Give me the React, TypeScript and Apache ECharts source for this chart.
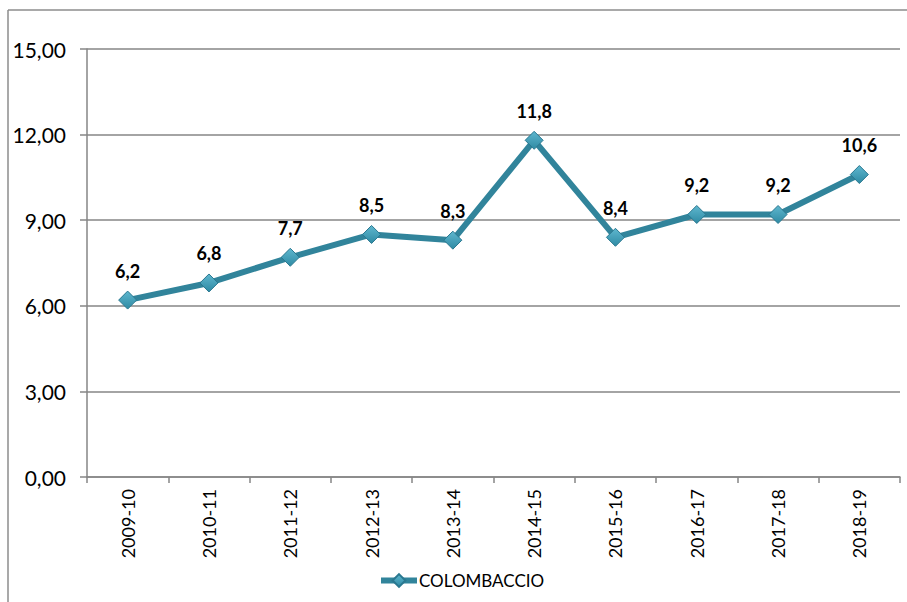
import React, { useEffect, useRef } from "react";
import * as echarts from "echarts";

const categories = ["2009-10", "2010-11", "2011-12", "2012-13", "2013-14", "2014-15", "2015-16", "2016-17", "2017-18", "2018-19"];
const values = [6.2, 6.8, 7.7, 8.5, 8.3, 11.8, 8.4, 9.2, 9.2, 10.6];
const seriesName = "COLOMBACCIO";
const yMin = 0;
const yMax = 15;
const yStep = 3;

export default function App() {
  const ref = useRef<HTMLDivElement>(null);
  useEffect(() => {
    if (!ref.current) return;
    const chart = echarts.init(ref.current, undefined, { renderer: "svg" });
    const font = "Lato, 'Liberation Sans', sans-serif";
    chart.setOption({
      animation: false,
      backgroundColor: "#ffffff",
      textStyle: { fontFamily: font },
      graphic: [
        { type: "line", shape: { x1: 8, y1: 10, x2: 907, y2: 10 }, style: { stroke: "#8c8c8c", lineWidth: 1.5 } },
        { type: "line", shape: { x1: 8, y1: 10, x2: 8, y2: 602 }, style: { stroke: "#8c8c8c", lineWidth: 1.5 } },
      ],
      grid: { left: 87, right: 7, top: 49, bottom: 125, containLabel: false },
      legend: {
        bottom: 8,
        left: 373,
        itemWidth: 36,
        itemHeight: 16,
        itemGap: 2,
        lineStyle: { width: 6 },
        textStyle: { fontSize: 17, color: "#000", fontFamily: font, padding: [0, 0, 0, -3] },
        data: [seriesName],
      },
      xAxis: {
        type: "category",
        data: categories,
        boundaryGap: true,
        axisLine: { show: true, lineStyle: { color: "#868686", width: 1.5 } },
        axisTick: { show: true, alignWithLabel: false, length: 6, lineStyle: { color: "#868686", width: 1.5 } },
        axisLabel: { rotate: 90, margin: 12, fontSize: 18, color: "#000", fontFamily: font, interval: 0 },
        splitLine: { show: false },
      },
      yAxis: {
        type: "value",
        min: yMin,
        max: yMax,
        interval: yStep,
        axisLine: { show: true, lineStyle: { color: "#868686", width: 1.5 } },
        axisTick: { show: true, length: 7, lineStyle: { color: "#868686", width: 1.5 } },
        axisLabel: {
          margin: 21,
          fontSize: 21,
          color: "#000",
          fontFamily: font,
          formatter: (v: number) => v.toFixed(2).replace(".", ","),
        },
        splitLine: { show: true, lineStyle: { color: "#868686", width: 1.5 } },
      },
      series: [
        {
          name: seriesName,
          type: "line",
          data: values,
          symbol: "diamond",
          symbolSize: 18,
          lineStyle: { color: "#31849B", width: 6 },
          itemStyle: {
            color: new echarts.graphic.LinearGradient(0, 0, 0, 1, [
              { offset: 0, color: "#5fb7cf" },
              { offset: 1, color: "#2e8aa3" },
            ]),
            borderColor: "#2a7890",
            borderWidth: 1,
          },
          label: {
            show: true,
            position: "top",
            distance: 11,
            fontSize: 18,
            fontWeight: "bold",
            color: "#000",
            fontFamily: font,
            formatter: (p: any) => String(p.value).replace(".", ","),
          },
        },
      ],
    });
    return () => chart.dispose();
  }, []);
  return <div ref={ref} style={{ position: "fixed", left: 0, top: 0, width: 907, height: 602 }} />;
}
